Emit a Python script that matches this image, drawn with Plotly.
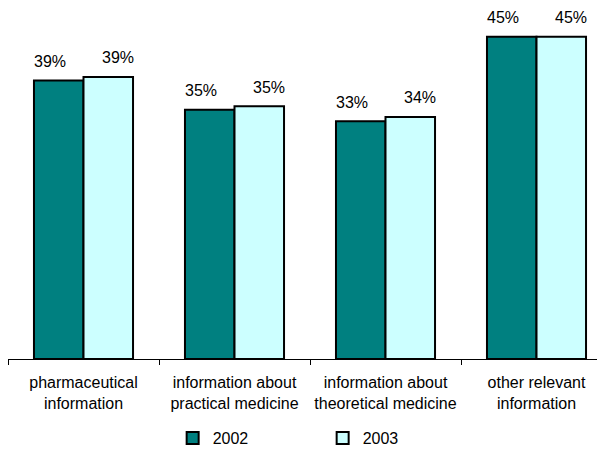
import plotly.graph_objects as go

categories = ["pharmaceutical<br>information",
              "information about<br>practical medicine",
              "information about<br>theoretical medicine",
              "other relevant<br>information"]
values_2002 = [38.9, 34.8, 33.2, 45.0]
values_2003 = [39.4, 35.3, 33.8, 45.0]
series_names = ["2002", "2003"]

FONT = "Arial, Liberation Sans, sans-serif"
colors = ["#008080", "#CCFFFF"]

fig = go.Figure()
for name, vals, col in zip(series_names, [values_2002, values_2003], colors):
    fig.add_trace(go.Bar(
        x=categories, y=vals, name=name,
        marker=dict(color=col, line=dict(color="black", width=2)),
    ))

# data labels (Excel style: shifted outward from each bar pair)
for i, cat in enumerate(categories):
    for vals, shift in ((values_2002, -34), (values_2003, 34)):
        fig.add_annotation(
            x=cat, y=vals[i], xref="x", yref="y",
            text=f"{round(vals[i])}%", showarrow=False,
            xshift=shift, yshift=19, yanchor="middle",
            font=dict(family=FONT, size=16, color="black"),
        )

fig.update_layout(
    width=597, height=441,
    margin=dict(l=0, r=0, t=2, b=90, autoexpand=False),
    paper_bgcolor="white", plot_bgcolor="white",
    barmode="group", bargap=0.344, bargroupgap=0,
    font=dict(family=FONT, size=16, color="black"),
    showlegend=True,
    legend=dict(orientation="h", x=0.2758, xanchor="left",
                yref="container", y=0.025, yanchor="middle",
                font=dict(family=FONT, size=16), entrywidth=105, itemwidth=30,
                bgcolor="rgba(0,0,0,0)"),
    xaxis=dict(
        range=[-0.5, 3.4536], showline=True, linecolor="black", linewidth=1,
        ticks="outside", tickson="boundaries", ticklen=5, tickcolor="black",
        tickangle=0, automargin=False, ticklabelstandoff=9,
        tickfont=dict(family=FONT, size=16, color="black"),
        showgrid=False, zeroline=False, fixedrange=True,
    ),
    yaxis=dict(range=[0, 48.74], visible=False, showgrid=False, fixedrange=True),
)

fig.write_html("out.html")
